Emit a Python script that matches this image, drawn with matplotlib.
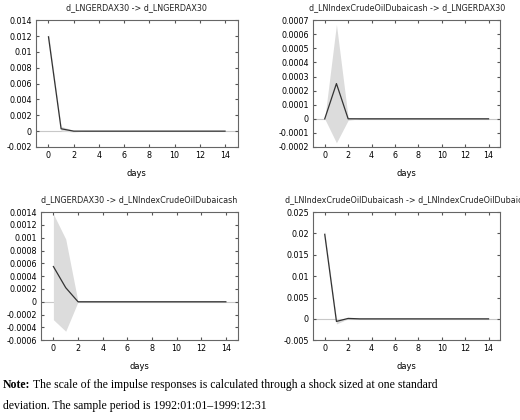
import matplotlib.pyplot as plt
import numpy as np

days = np.arange(15)
titles = ["d_LNGERDAX30 -> d_LNGERDAX30",
          "d_LNIndexCrudeOilDubaicash -> d_LNGERDAX30",
          "d_LNGERDAX30 -> d_LNIndexCrudeOilDubaicash",
          "d_LNIndexCrudeOilDubaicash -> d_LNIndexCrudeOilDubaica"]

pad = [0.0] * 12
irf1 = [0.0119, 0.0003, 0.0] + pad
lo1 = [0.0115, 0.0, -0.0001] + pad
hi1 = [0.0124, 0.0006, 0.0001] + pad
irf2 = [0.0, 0.00025, 0.0] + pad
lo2 = [0.0, -0.00017, -0.00001] + pad
hi2 = [0.0, 0.00067, 0.00001] + pad
irf3 = [0.00055, 0.00022, 0.0] + pad
lo3 = [-0.00028, -0.00046, 0.0] + pad
hi3 = [0.00137, 0.00098, 0.0] + pad
irf4 = [0.0198, -0.0006, 0.0001] + pad
lo4 = [0.0190, -0.0012, 0.0] + pad
hi4 = [0.0205, 0.0001, 0.0] + pad

ylims = [(-0.002, 0.014, 0.002), (-0.0002, 0.0007, 0.0001),
         (-0.0006, 0.0014, 0.0002), (-0.005, 0.025, 0.005)]
rects = [[0.069, 0.65, 0.388, 0.302], [0.602, 0.65, 0.36, 0.302],
         [0.079, 0.19, 0.379, 0.305], [0.602, 0.19, 0.36, 0.305]]
series = [(irf1, lo1, hi1), (irf2, lo2, hi2), (irf3, lo3, hi3), (irf4, lo4, hi4)]

fig = plt.figure(figsize=(5.2, 4.2), dpi=100)
for rect, title, (irf, lo, hi), (ymin, ymax, step) in zip(rects, titles, series, ylims):
    ax = fig.add_axes(rect)
    ax.axhline(0, color="#c8c8c8", lw=0.8, zorder=0)
    ax.fill_between(days, lo, hi, color="#dcdcdc", lw=0)
    ax.plot(days, irf, color="#333333", lw=0.9)
    ax.set_xlim(-1, 15)
    ax.set_ylim(ymin, ymax)
    ax.set_xticks(range(0, 15, 2))
    yt = np.arange(ymin, ymax + step / 2, step)
    ax.set_yticks(yt)
    ax.set_yticklabels([f"{round(v, 6):g}" if abs(v) > 1e-12 else "0" for v in yt])
    ax.tick_params(direction="in", top=True, right=True, labelsize=5.8, length=2.5,
                   color="#555555", pad=3)
    for s in ax.spines.values():
        s.set_color("#666666")
        s.set_linewidth(0.8)
    ax.set_title(title, fontsize=5.8, pad=7, color="#222222")
    ax.set_xlabel("days", fontsize=6, labelpad=6)

note_x, note_y = 0.005, 0.02
t = fig.text(note_x, note_y + 0.05, "Note:", family="Liberation Serif", weight="bold",
             fontsize=8.5, va="bottom")
fig.canvas.draw()
w = t.get_window_extent().width / fig.bbox.width
fig.text(note_x + w + 0.006, note_y + 0.05,
         "The scale of the impulse responses is calculated through a shock sized at one standard",
         family="Liberation Serif", fontsize=8.5, va="bottom")
fig.text(note_x, note_y, "deviation. The sample period is 1992:01:01\u20131999:12:31",
         family="Liberation Serif", fontsize=8.5, va="bottom")
plt.savefig("out.png", dpi=100)
